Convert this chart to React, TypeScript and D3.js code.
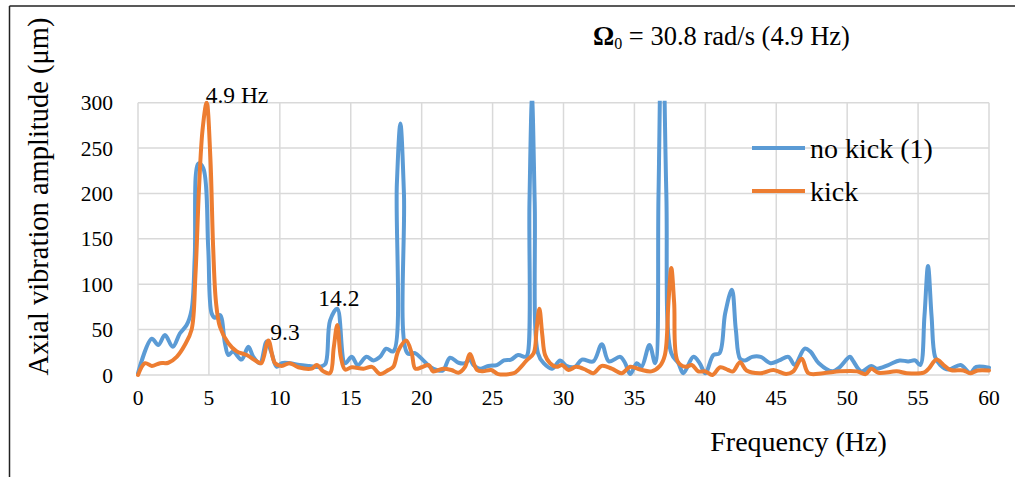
import React from "react";
import * as d3 from "d3";

const freqNoKick = [0, 0.97, 1.43, 1.9, 2.45, 2.96, 3.43, 3.78, 4.0, 4.25, 4.6, 4.95, 5.19, 5.42, 5.78, 6.13, 6.37, 6.7, 7.3, 7.78, 8.13, 8.6, 9.07, 9.4, 9.78, 10.13, 10.7, 11.4, 12.1, 12.8, 13.2, 13.54, 14.05, 14.6, 15.07, 15.5, 16.1, 16.6, 17.07, 17.5, 18.0, 18.25, 18.5, 18.75, 19.0, 19.53, 20.0, 20.6, 21.06, 21.5, 22.0, 22.6, 23.06, 23.4, 23.65, 24.1, 24.7, 25.3, 25.8, 26.3, 26.8, 27.3, 27.45, 27.6, 27.78, 27.97, 28.2, 28.6, 29.2, 29.76, 30.2, 30.8, 31.3, 32.1, 32.7, 33.2, 34.0, 34.35, 34.7, 35.17, 35.5, 36.06, 36.46, 36.7, 36.95, 37.25, 37.6, 38.1, 38.45, 39.16, 39.6, 40.0, 40.57, 41.0, 41.4, 41.87, 42.15, 42.45, 42.8, 43.3, 43.9, 44.6, 45.2, 45.86, 46.3, 47.0, 47.4, 48.0, 49.0, 49.5, 50.2, 50.4, 51.0, 51.7, 52.1, 52.9, 53.7, 54.3, 54.8, 55.15, 55.45, 55.7, 55.95, 56.2, 56.56, 57.14, 58.0, 58.67, 59.1, 60];
const ampNoKick = [2, 40, 33, 44, 31, 46, 55, 72, 130, 233, 228, 140, 68, 63, 66, 35, 22, 26, 17, 31, 20, 13, 37, 25, 9, 13, 13, 11, 10, 9, 12, 60, 73, 13, 20, 11, 20, 16, 20, 29, 26, 210, 277, 200, 24, 24, 18, 9, 5.5, 5, 19, 13.5, 13, 17, 11, 7, 10, 11, 16, 17, 22, 20, 22, 190, 305, 190, 24, 13, 7, 16, 10, 9, 17, 15, 34, 15, 20, 13, 1, 13, 9, 33, 13, 200, 430, 200, 24, 13, 2, 20, 13, 2, 22, 24, 68, 94, 50, 18, 16, 20, 20, 13, 16, 20, 11, 29, 26, 13, 4, 9, 20, 16, 4, 10, 7, 11, 16, 15, 16, 11, 65, 120, 65, 20, 11, 6, 11, 2.5, 9, 8];

const freqKick = [0, 0.5, 0.97, 1.55, 2.14, 2.73, 3.3, 3.78, 4.05, 4.3, 4.55, 4.84, 5.1, 5.3, 5.5, 5.78, 6.37, 6.96, 7.67, 8.37, 8.7, 9.19, 9.66, 10.13, 10.7, 11.3, 12.25, 12.6, 13.07, 13.54, 13.8, 14.05, 14.3, 14.6, 15.07, 15.9, 16.5, 17.07, 17.65, 18.0, 18.36, 18.9, 19.3, 19.55, 20.0, 20.5, 20.8, 21.5, 22.1, 22.6, 23.06, 23.4, 23.9, 24.3, 24.9, 25.4, 26.5, 26.8, 27.4, 27.9, 28.1, 28.3, 28.5, 28.7, 29.05, 29.5, 29.9, 30.35, 30.9, 31.6, 32.1, 32.7, 33.4, 34.1, 34.7, 35.4, 36.2, 36.8, 37.15, 37.4, 37.6, 37.8, 38.05, 38.6, 39.05, 39.5, 40.0, 40.5, 41.05, 41.6, 41.95, 42.45, 42.9, 43.9, 44.8, 45.7, 46.2, 46.8, 47.27, 48.3, 49.5, 50.7, 51.3, 51.7, 52.2, 53.5, 54.2, 55.4, 55.75, 56.3, 56.8, 57.3, 58.2, 58.67, 59.2, 60];
const ampKick = [0, 13, 10, 13, 13.5, 20, 33, 50, 110, 205, 270, 300, 240, 140, 80, 53, 35, 26, 22, 15, 13, 38, 13, 10, 13, 8.5, 7, 11, 4, 2, 30, 55, 20, 6, 8.5, 7, 9, 1, 5.5, 9, 27, 38, 24, 7, 8.5, 11, 4, 7, 5.5, 2.5, 9, 23, 5.5, 4, 5.5, 1, 2, 5.5, 16, 24, 50, 73, 45, 22, 13, 9, 11, 5.5, 9, 5.5, 2, 10, 7, 2, 9, 6, 4, 10, 22, 80, 118, 80, 15, 9, 11, 4, 4, 0, 8.5, 5.5, 4, 14, 5, 2, 5.5, 1, 4, 18, 2, 2, 4, 4, 1, 7, 2.5, 4, 2, 2.5, 7, 17, 11, 5.5, 5, 2, 5, 5];

const xTicks = [0, 5, 10, 15, 20, 25, 30, 35, 40, 45, 50, 55, 60];
const yTicks = [0, 50, 100, 150, 200, 250, 300];
const seriesNames = ["no kick (1)", "kick"];
const seriesColors = ["#5B9BD5", "#ED7D31"];
const annotations = [
  { text: "4.9 Hz", f: 4.84, v: 300 },
  { text: "9.3", f: 9.19, v: 38 },
  { text: "14.2", f: 14.05, v: 73 },
];

const W = 1015;
const H = 477;
const plot = { left: 138, right: 989, top: 102.7, bottom: 375 };
const FONT = '"Liberation Serif", "DejaVu Serif", "Times New Roman", serif';
const tStyle: React.CSSProperties = { fontFamily: FONT };

export default function App() {
  const x = d3.scaleLinear().domain([0, 60]).range([plot.left, plot.right]);
  const y = d3.scaleLinear().domain([0, 300]).range([plot.bottom, plot.top]);
  const line = d3
    .line<[number, number]>()
    .x((d) => x(d[0]))
    .y((d) => y(d[1]))
    .curve(d3.curveCatmullRom.alpha(0.5));
  const blue = line(freqNoKick.map((f, i) => [f, ampNoKick[i]] as [number, number])) || "";
  const orange = line(freqKick.map((f, i) => [f, ampKick[i]] as [number, number])) || "";

  const annOffsets: Record<string, [number, number]> = {
    "4.9 Hz": [-1, 0],
    "9.3": [2, -1],
    "14.2": [-19, -3],
  };

  return (
    <svg
      width={W}
      height={H}
      style={{ position: "absolute", left: 0, top: 0, background: "#fff" }}
    >
      <rect x={0} y={0} width={W} height={H} fill="#fff" />
      {/* frame */}
      <line x1={9.5} y1={6} x2={W} y2={6} stroke="#222" strokeWidth={1.5} />
      <line x1={9.5} y1={6} x2={9.5} y2={H} stroke="#222" strokeWidth={1.5} />

      <defs>
        <clipPath id="plotClip">
          <rect x={plot.left - 4} y={plot.top - 2} width={plot.right - plot.left + 8} height={plot.bottom - plot.top + 8} />
        </clipPath>
      </defs>

      {/* grid */}
      {xTicks.map((t) => (
        <line key={"gx" + t} x1={x(t)} x2={x(t)} y1={plot.top} y2={plot.bottom} stroke="#D9D9D9" strokeWidth={1.5} />
      ))}
      {yTicks.map((t) => (
        <line key={"gy" + t} x1={plot.left} x2={plot.right} y1={y(t)} y2={y(t)} stroke="#D9D9D9" strokeWidth={1.5} />
      ))}

      {/* tick labels */}
      {yTicks.map((t) => (
        <text key={"ty" + t} x={113} y={y(t) + 7.5} textAnchor="end" fontSize={21.5} fill="#000" style={tStyle}>
          {t}
        </text>
      ))}
      {xTicks.map((t) => (
        <text key={"tx" + t} x={x(t)} y={405} textAnchor="middle" fontSize={21.5} fill="#000" style={tStyle}>
          {t}
        </text>
      ))}

      {/* series */}
      <g clipPath="url(#plotClip)">
        <path d={blue} fill="none" stroke={seriesColors[0]} strokeWidth={4} strokeLinejoin="round" strokeLinecap="round" />
        <path d={orange} fill="none" stroke={seriesColors[1]} strokeWidth={4} strokeLinejoin="round" strokeLinecap="round" />
      </g>

      {/* annotations */}
      {annotations.map((a) => {
        const off = annOffsets[a.text];
        return (
          <text key={a.text} x={x(a.f) + off[0]} y={y(a.v) + off[1]} fontSize={23.5} fill="#000" style={tStyle}>
            {a.text}
          </text>
        );
      })}

      {/* legend */}
      {seriesNames.map((n, i) => (
        <g key={n}>
          <line x1={752} x2={805} y1={148 + i * 43} y2={148 + i * 43} stroke={seriesColors[i]} strokeWidth={4} />
          <text x={810} y={157.5 + i * 43} fontSize={28} fill="#000" style={tStyle}>
            {n}
          </text>
        </g>
      ))}

      {/* title */}
      <text x={593} y={45} fontSize={26.5} fill="#000" style={tStyle}>
        <tspan fontWeight="bold">Ω</tspan>
        <tspan fontSize={16} dy={4}>0</tspan>
        <tspan dy={-4}> = 30.8 rad/s (4.9 Hz)</tspan>
      </text>

      {/* axis titles */}
      <text x={798.5} y={451} textAnchor="middle" fontSize={28} fill="#000" style={tStyle}>
        Frequency (Hz)
      </text>
      <text
        transform={`translate(48, 196.5) rotate(-90)`}
        textAnchor="middle"
        fontSize={28.5}
        fill="#000"
        style={tStyle}
      >
        Axial vibration amplitude (μm)
      </text>
    </svg>
  );
}
